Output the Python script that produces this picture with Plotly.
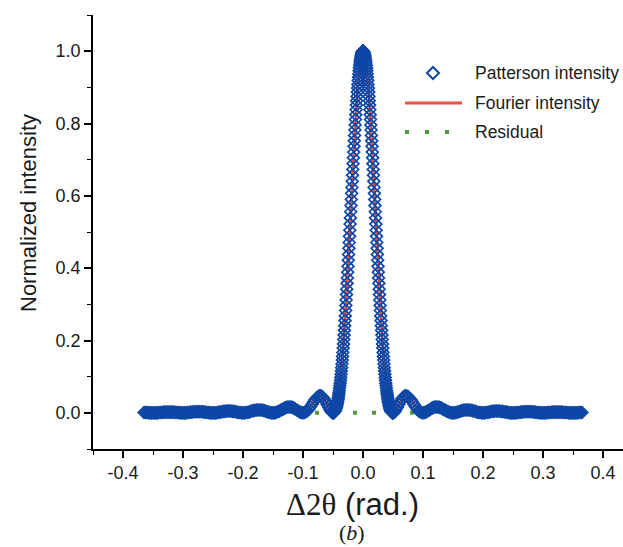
import plotly.graph_objects as go

# ---------------- data ----------------
# central lobe, sampled every 0.0005 rad from -0.05 to 0.05
lobe_x = [round(-0.05 + i * 0.0005, 4) for i in range(201)]
lobe_y = [
    0.000, 0.000, 0.000, 0.001, 0.002, 0.003, 0.004, 0.006, 0.007, 0.010,
    0.012, 0.015, 0.018, 0.021, 0.025, 0.029, 0.033, 0.038, 0.043, 0.049,
    0.055, 0.061, 0.068, 0.075, 0.082, 0.090, 0.098, 0.107, 0.116, 0.125,
    0.135, 0.146, 0.156, 0.167, 0.179, 0.190, 0.203, 0.215, 0.228, 0.241,
    0.255, 0.268, 0.283, 0.297, 0.312, 0.327, 0.342, 0.358, 0.373, 0.389,
    0.405, 0.422, 0.438, 0.455, 0.471, 0.488, 0.505, 0.522, 0.539, 0.556,
    0.573, 0.590, 0.607, 0.623, 0.640, 0.657, 0.673, 0.689, 0.705, 0.721,
    0.737, 0.752, 0.767, 0.782, 0.796, 0.811, 0.824, 0.838, 0.851, 0.863,
    0.875, 0.887, 0.898, 0.908, 0.919, 0.928, 0.937, 0.946, 0.954, 0.961,
    0.968, 0.974, 0.979, 0.984, 0.988, 0.992, 0.995, 0.997, 0.999, 1.000,
    1.000,
    1.000, 0.999, 0.997, 0.995, 0.992, 0.988, 0.984, 0.979, 0.974, 0.968,
    0.961, 0.954, 0.946, 0.937, 0.928, 0.919, 0.908, 0.898, 0.887, 0.875,
    0.863, 0.851, 0.838, 0.824, 0.811, 0.796, 0.782, 0.767, 0.752, 0.737,
    0.721, 0.705, 0.689, 0.673, 0.657, 0.640, 0.623, 0.607, 0.590, 0.573,
    0.556, 0.539, 0.522, 0.505, 0.488, 0.471, 0.455, 0.438, 0.422, 0.405,
    0.389, 0.373, 0.358, 0.342, 0.327, 0.312, 0.297, 0.283, 0.268, 0.255,
    0.241, 0.228, 0.215, 0.203, 0.190, 0.179, 0.167, 0.156, 0.146, 0.135,
    0.125, 0.116, 0.107, 0.098, 0.090, 0.082, 0.075, 0.068, 0.061, 0.055,
    0.049, 0.043, 0.038, 0.033, 0.029, 0.025, 0.021, 0.018, 0.015, 0.012,
    0.010, 0.007, 0.006, 0.004, 0.003, 0.002, 0.001, 0.000, 0.000, 0.000,
]

# side lobes, sampled every 0.0025 rad
left_tail_x = [round(-0.365 + i * 0.0025, 4) for i in range(126)]
left_tail_y = [
    0.001, 0.001, 0.001, 0.000, 0.000, 0.000,
    0.000, 0.000, 0.000, 0.000, 0.001, 0.001, 0.001, 0.002, 0.002, 0.002,
    0.002, 0.002, 0.002, 0.002, 0.002, 0.001, 0.001, 0.001, 0.000, 0.000,
    0.000, 0.000, 0.000, 0.001, 0.001, 0.002, 0.002, 0.003, 0.003, 0.003,
    0.003, 0.003, 0.003, 0.003, 0.002, 0.002, 0.001, 0.001, 0.000, 0.000,
    0.000, 0.000, 0.000, 0.001, 0.002, 0.002, 0.003, 0.004, 0.004, 0.005,
    0.005, 0.005, 0.005, 0.004, 0.004, 0.003, 0.002, 0.001, 0.001, 0.000,
    0.000, 0.000, 0.001, 0.001, 0.002, 0.004, 0.005, 0.006, 0.007, 0.008,
    0.008, 0.008, 0.008, 0.007, 0.006, 0.005, 0.003, 0.002, 0.001, 0.000,
    0.000, 0.000, 0.001, 0.003, 0.004, 0.007, 0.009, 0.011, 0.014, 0.015,
    0.016, 0.016, 0.016, 0.015, 0.013, 0.010, 0.007, 0.005, 0.002, 0.001,
    0.000, 0.001, 0.003, 0.006, 0.011, 0.017, 0.023, 0.030, 0.036, 0.041,
    0.045, 0.047, 0.047, 0.044, 0.039, 0.032, 0.024, 0.016, 0.008, 0.002,
]
right_tail_x = [round(0.0525 + i * 0.0025, 4) for i in range(126)]
right_tail_y = [
    0.002, 0.008, 0.016, 0.024, 0.032, 0.039, 0.044, 0.047, 0.047, 0.045,
    0.041, 0.036, 0.030, 0.023, 0.017, 0.011, 0.006, 0.003, 0.001, 0.000,
    0.001, 0.002, 0.005, 0.007, 0.010, 0.013, 0.015, 0.016, 0.016, 0.016,
    0.015, 0.014, 0.011, 0.009, 0.007, 0.004, 0.003, 0.001, 0.000, 0.000,
    0.000, 0.001, 0.002, 0.003, 0.005, 0.006, 0.007, 0.008, 0.008, 0.008,
    0.008, 0.007, 0.006, 0.005, 0.004, 0.002, 0.001, 0.001, 0.000, 0.000,
    0.000, 0.001, 0.001, 0.002, 0.003, 0.004, 0.004, 0.005, 0.005, 0.005,
    0.005, 0.004, 0.004, 0.003, 0.002, 0.002, 0.001, 0.000, 0.000, 0.000,
    0.000, 0.000, 0.001, 0.001, 0.002, 0.002, 0.003, 0.003, 0.003, 0.003,
    0.003, 0.003, 0.003, 0.002, 0.002, 0.001, 0.001, 0.000, 0.000, 0.000,
    0.000, 0.000, 0.001, 0.001, 0.001, 0.002, 0.002, 0.002, 0.002, 0.002,
    0.002, 0.002, 0.002, 0.001, 0.001, 0.001, 0.000, 0.000, 0.000, 0.000,
    0.000, 0.000, 0.000, 0.001, 0.001, 0.001,
]

delta_2theta = left_tail_x + lobe_x + right_tail_x
patterson_intensity = left_tail_y + lobe_y + right_tail_y
fourier_intensity = list(patterson_intensity)
residual = [p - f for p, f in zip(patterson_intensity, fourier_intensity)]

legend_names = ["Patterson intensity", "Fourier intensity", "Residual"]
x_ticks = [-0.4, -0.3, -0.2, -0.1, 0.0, 0.1, 0.2, 0.3, 0.4]
y_ticks = [0.0, 0.2, 0.4, 0.6, 0.8, 1.0]

# ---------------- style ----------------
BLUE = "#0d47a6"
RED = "#f2513c"
GREEN = "#4f9a3c"
INK = "#1a1a1a"
SANS = "Liberation Sans, Arial, sans-serif"
SERIF = "Liberation Serif, Times New Roman, serif"

W, H = 623, 547
L, T, B = 93, 15, 98
PW, PH = W - L, H - T - B


def px(x):
    return (x - L) / PW


def py(y):
    return (H - B - y) / PH


fig = go.Figure()
fig.add_trace(go.Scatter(
    x=delta_2theta, y=fourier_intensity, mode="lines", name=legend_names[1],
    line=dict(color=RED, width=3), showlegend=False))
fig.add_trace(go.Scatter(
    x=delta_2theta, y=residual, mode="lines", name=legend_names[2],
    line=dict(color=GREEN, width=4, dash="4px,15px"), showlegend=False))
fig.add_trace(go.Scatter(
    x=delta_2theta, y=patterson_intensity, mode="markers", name=legend_names[0],
    marker=dict(symbol="diamond-open", size=9, color=BLUE,
                line=dict(color=BLUE, width=1.7)), showlegend=False))

shapes = []
annotations = []
# legend (drawn by hand so the samples match the original proportions)
row_y = [73, 103, 132]
d = 6
cx, cy = 433, row_y[0]
shapes.append(dict(
    type="path", xref="paper", yref="paper",
    path=f"M{px(cx-d)},{py(cy)} L{px(cx)},{py(cy-d)} L{px(cx+d)},{py(cy)} L{px(cx)},{py(cy+d)} Z",
    line=dict(color=BLUE, width=2)))
shapes.append(dict(type="line", xref="paper", yref="paper",
                   x0=px(405), x1=px(462), y0=py(row_y[1]), y1=py(row_y[1]),
                   line=dict(color=RED, width=3)))
shapes.append(dict(type="line", xref="paper", yref="paper",
                   x0=px(405), x1=px(450), y0=py(row_y[2]), y1=py(row_y[2]),
                   line=dict(color=GREEN, width=4, dash="4px,16px")))
for name, ry in zip(legend_names, row_y):
    annotations.append(dict(
        x=px(473), y=py(ry), xref="paper", yref="paper", text=name,
        showarrow=False, xanchor="left", yanchor="middle",
        font=dict(family=SANS, size=17.5, color=INK)))

# axis titles and panel label
annotations.append(dict(
    x=px(28), y=py(213), xref="paper", yref="paper", text="Normalized intensity",
    showarrow=False, textangle=-90, xanchor="center", yanchor="middle",
    font=dict(family=SANS, size=22, color=INK)))
annotations.append(dict(
    x=px(352), y=py(505), xref="paper", yref="paper",
    text=f"<span style='font-family:{SERIF}'>\u03942\u03b8</span> (rad.)",
    showarrow=False, xanchor="center", yanchor="middle",
    font=dict(family=SANS, size=31, color=INK)))
annotations.append(dict(
    x=px(352), y=py(532), xref="paper", yref="paper",
    text="(<i>b</i>)", showarrow=False, xanchor="center", yanchor="middle",
    font=dict(family=SERIF, size=22, color=INK)))

fig.update_layout(
    width=W, height=H,
    margin=dict(l=L, r=0, t=T, b=B),
    paper_bgcolor="white", plot_bgcolor="white",
    shapes=shapes, annotations=annotations,
    showlegend=False,
    xaxis=dict(
        range=[-0.45, -0.45 + PW / 600.0], tickvals=x_ticks,
        ticktext=[f"{v:.1f}" for v in x_ticks],
        showgrid=False, zeroline=False, showline=True, linecolor="black",
        linewidth=1.6, ticks="outside", ticklen=7, tickwidth=1.6,
        tickcolor="black",
        minor=dict(ticks="outside", ticklen=4, tickwidth=1.4, dtick=0.05,
                   tick0=0, tickcolor="black", showgrid=False),
        tickfont=dict(family=SANS, size=18, color=INK)),
    yaxis=dict(
        range=[-0.1, 1.1], tickvals=y_ticks,
        ticktext=[f"{v:.1f}" for v in y_ticks],
        showgrid=False, zeroline=False, showline=True, linecolor="black",
        linewidth=1.6, ticks="outside", ticklen=7, tickwidth=1.6,
        tickcolor="black",
        minor=dict(ticks="outside", ticklen=4, tickwidth=1.4, dtick=0.1,
                   tick0=0, tickcolor="black", showgrid=False),
        tickfont=dict(family=SANS, size=18, color=INK)),
)

fig.write_html("out.html")
